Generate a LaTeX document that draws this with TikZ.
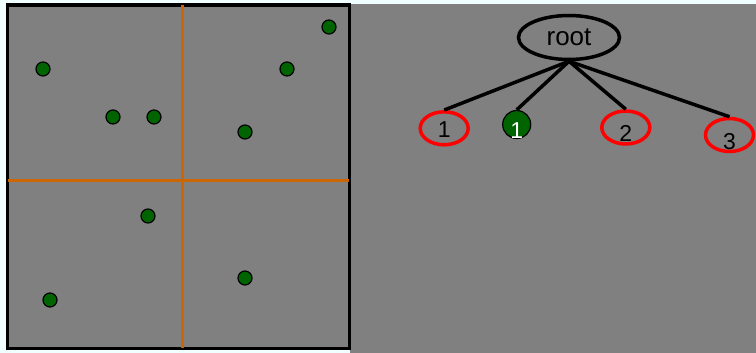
\documentclass[tikz,border=0pt]{standalone}
\usepackage{fontspec}
\setmainfont{Liberation Sans}
\usetikzlibrary{shapes.geometric}
\definecolor{paper}{RGB}{240, 255, 255}
\definecolor{panelgray}{RGB}{128, 128, 128}
\definecolor{splitorange}{RGB}{204, 102, 0}
\definecolor{pointgreen}{RGB}{0, 100, 0}
\newcommand{\lowdigit}[1]{\raisebox{-6pt}[\height][0pt]{#1}}

\begin{document}
\begin{tikzpicture}[x=1pt, y=-1pt,
  point/.style={fill=pointgreen, draw=black, line width=1.2pt},
  treenode/.style={ellipse, draw=black, line width=3.5pt, inner sep=0pt, font=\fontsize{26}{28}\selectfont},
  leaf/.style={ellipse, draw=red, line width=3.5pt, inner sep=0pt, minimum width=48pt, minimum height=33pt, font=\fontsize{23}{26}\selectfont},
  greenleaf/.style={circle, fill=pointgreen, draw=black, line width=1.2pt, inner sep=0pt, minimum size=28pt, text=white, font=\fontsize{23}{26}\selectfont},
  edge/.style={line width=3.5pt}]
  \useasboundingbox (0,0) rectangle (756,353);
  \fill[paper] (0,0) rectangle (756,353);

  % Panel a: point space split in quadrants
  \fill[panelgray] (350,4) rectangle (756,353);
  \draw[fill=panelgray, line width=3.5pt] (7.7,5) rectangle (349.7,348.5);
  \draw[splitorange, line width=2.8pt] (182.7,5) -- (182.7,348);
  \draw[splitorange, line width=2.8pt] (8,180.7) -- (349,180.7);

  % Points
  \foreach \px/\py in {43/69, 113/117, 154/117, 329/27, 287/69, 245/132, 148/216, 50/300, 245/278} {
    \draw[point] (\px,\py) circle (7);
  }

  % Panel b: tree
  \node[treenode, minimum width=101pt, minimum height=44pt] (root) at (569,37.5) {root};
  \node[leaf] (c1) at (444.2,128.3) {\raisebox{-1.5pt}[\height][0pt]{1}};
  \node[greenleaf] (g1) at (516.7,124.5) {\lowdigit{1}};
  \node[leaf] (c2) at (625.8,127.5) {\lowdigit{2}};
  \node[leaf] (c3) at (729.5,135) {\lowdigit{3}};

  \foreach \kid in {c1, g1, c2, c3} {
    \draw[edge] (root.south) -- (\kid.north);
  }
\end{tikzpicture}
\end{document}
